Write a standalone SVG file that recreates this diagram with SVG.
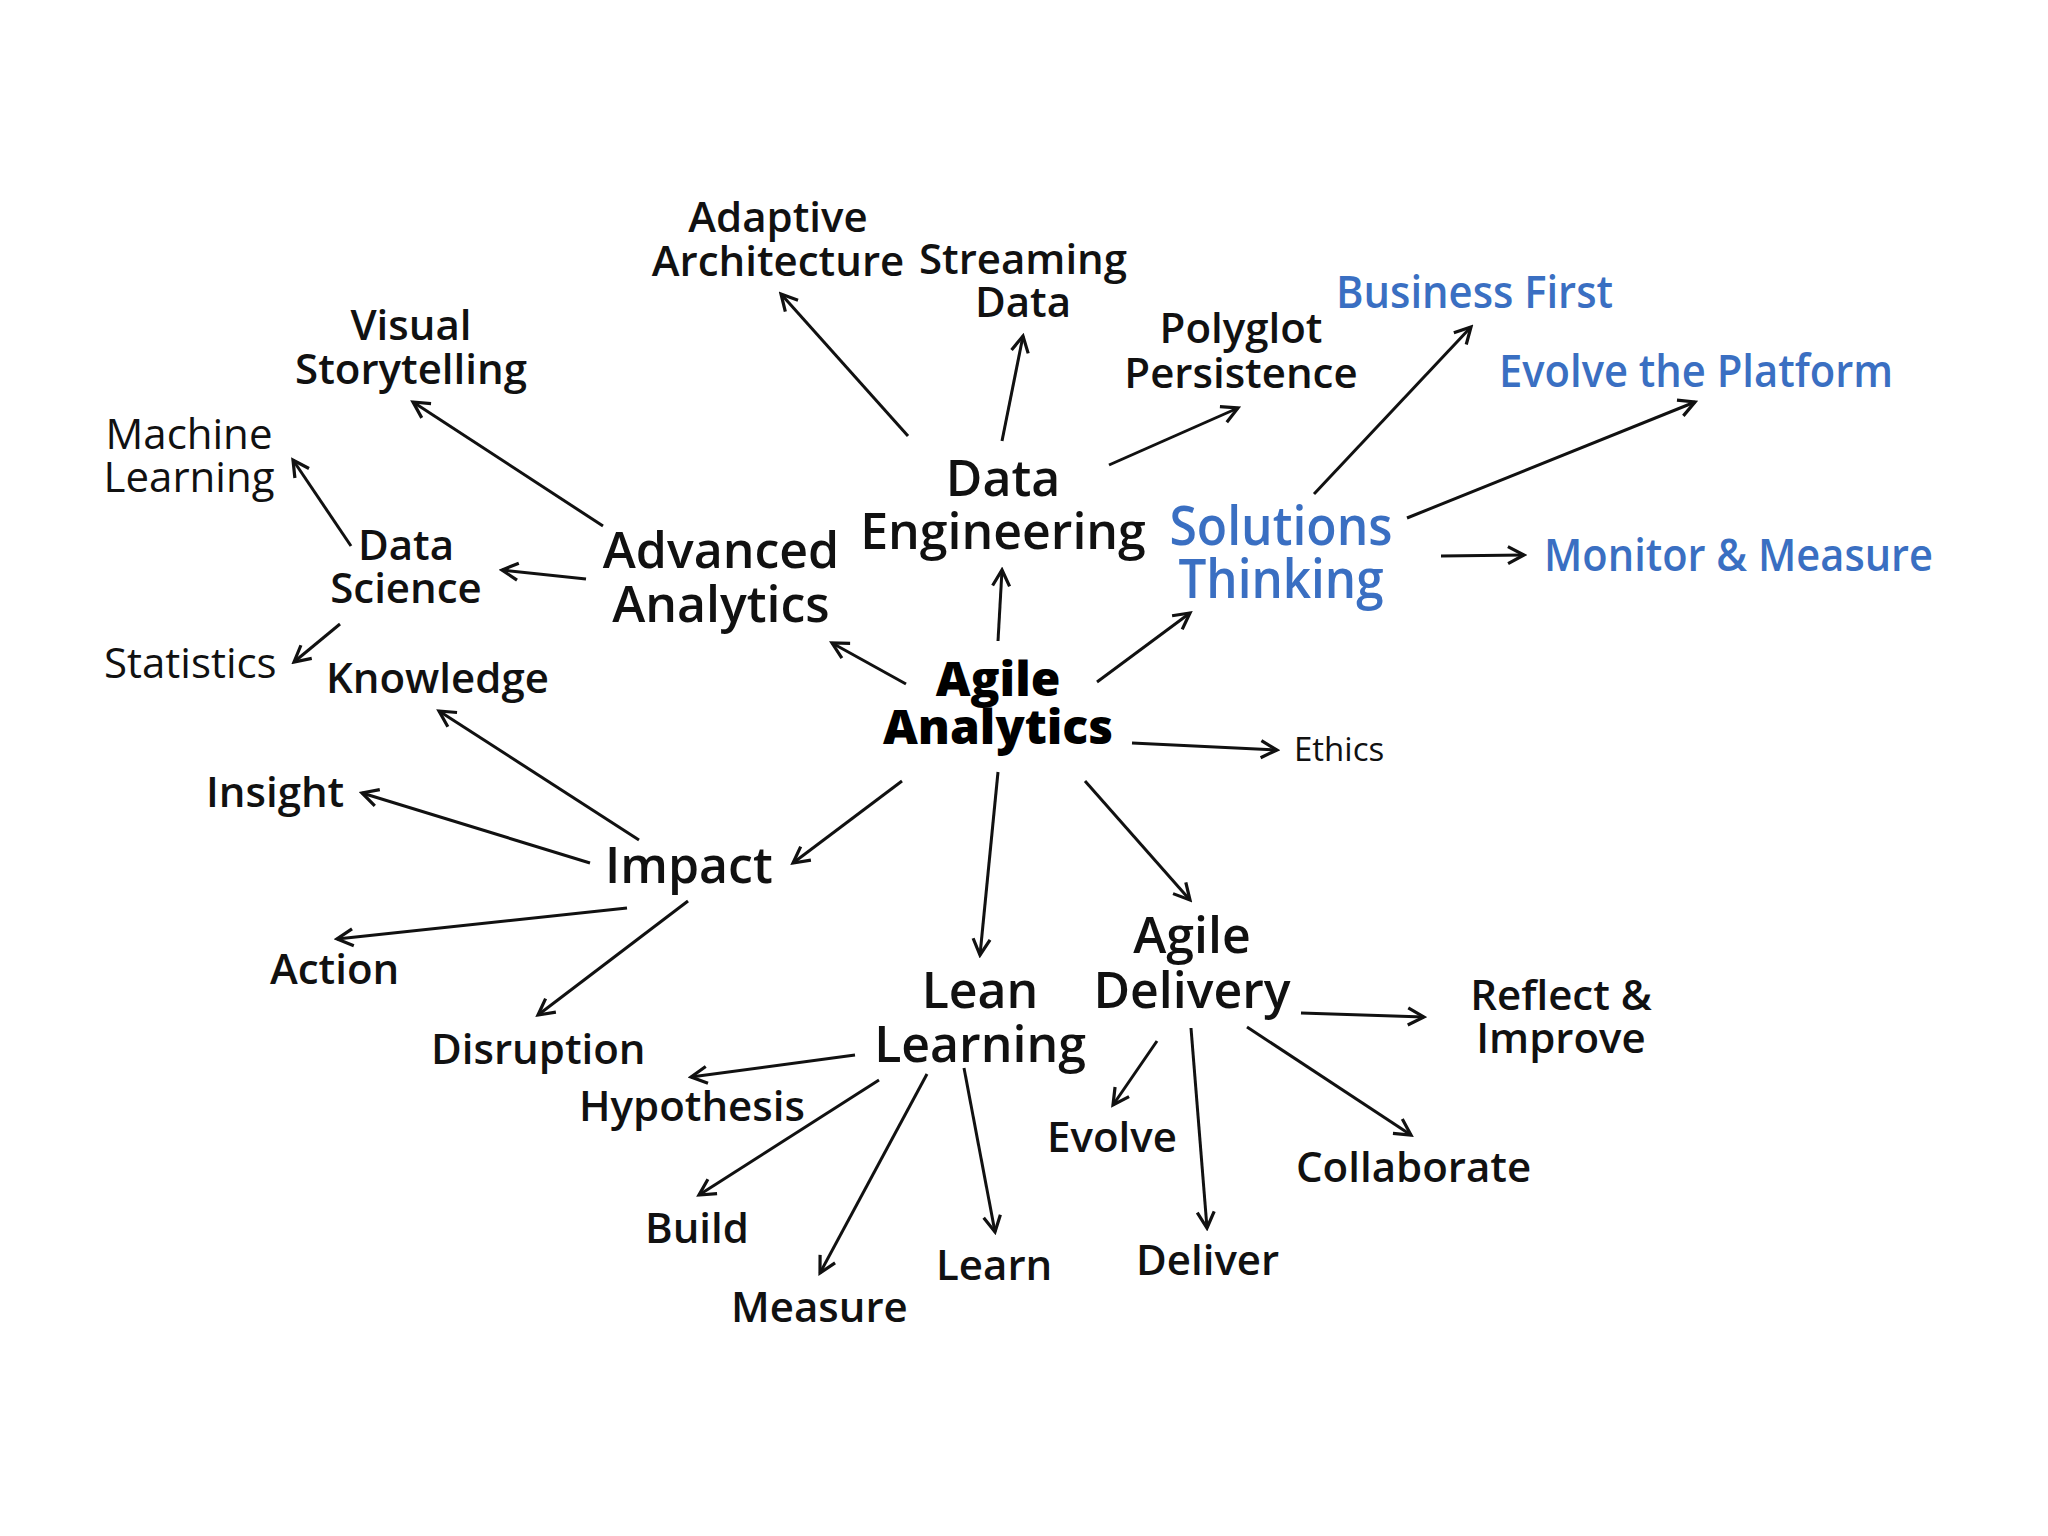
<svg xmlns="http://www.w3.org/2000/svg" width="2048" height="1536" viewBox="0 0 2048 1536">
<style>
text{font-family:"Open Sans","Noto Sans","Liberation Sans",sans-serif;fill:#111;}
.s{font-size:42px;font-weight:600;}
.r{font-size:42px;font-weight:400;}
.b{font-size:50px;font-weight:600;}
.c{text-anchor:middle;}
.blue{fill:#3a6fc2;font-weight:600;}
.hub{font-size:48px;font-weight:900;text-anchor:middle;fill:#000;}
.eth{font-size:33px;font-weight:400;}
#connectors line{stroke:#111;stroke-width:3;marker-end:url(#ah);}
</style>
<defs>
<marker id="ah" viewBox="0 0 24 24" refX="21" refY="12" markerWidth="24" markerHeight="24" markerUnits="userSpaceOnUse" orient="auto">
<path d="M5,3.5 L21,12 L5,20.5" fill="none" stroke="#111" stroke-width="3.2"/>
</marker>
</defs>
<rect width="2048" height="1536" fill="#fff"/>
<g id="connectors">
<line x1="998" y1="641" x2="1002" y2="570"/>
<line x1="906" y1="684" x2="832" y2="643"/>
<line x1="1097" y1="682" x2="1190" y2="613"/>
<line x1="1132" y1="743" x2="1277" y2="750"/>
<line x1="902" y1="781" x2="793" y2="863"/>
<line x1="998" y1="772" x2="980" y2="955"/>
<line x1="1085" y1="781" x2="1190" y2="900"/>
<line x1="908" y1="436" x2="781" y2="294"/>
<line x1="1002" y1="441" x2="1023" y2="336"/>
<line x1="1109" y1="465" x2="1238" y2="408"/>
<line x1="1314" y1="494" x2="1471" y2="327"/>
<line x1="1407" y1="518" x2="1695" y2="402"/>
<line x1="1441" y1="556" x2="1524" y2="555"/>
<line x1="603" y1="526" x2="413" y2="402"/>
<line x1="586" y1="579" x2="502" y2="570"/>
<line x1="351" y1="546" x2="293" y2="460"/>
<line x1="340" y1="624" x2="294" y2="662"/>
<line x1="639" y1="840" x2="439" y2="711"/>
<line x1="590" y1="863" x2="362" y2="793"/>
<line x1="627" y1="908" x2="337" y2="939"/>
<line x1="688" y1="901" x2="538" y2="1015"/>
<line x1="855" y1="1055" x2="691" y2="1077"/>
<line x1="879" y1="1080" x2="699" y2="1195"/>
<line x1="927" y1="1074" x2="820" y2="1273"/>
<line x1="964" y1="1068" x2="995" y2="1232"/>
<line x1="1157" y1="1041" x2="1113" y2="1105"/>
<line x1="1191" y1="1028" x2="1207" y2="1228"/>
<line x1="1301" y1="1013" x2="1424" y2="1017"/>
<line x1="1247" y1="1027" x2="1411" y2="1135"/>
</g>
<g id="agile-analytics"><text class="hub" x="998" y="696">Agile</text><text class="hub" x="998" y="744">Analytics</text></g>
<g id="data-engineering"><text class="b c" x="1003" y="496">Data</text><text class="b c" x="1003" y="549">Engineering</text></g>
<g id="adaptive-architecture"><text class="s c" x="778" y="232">Adaptive</text><text class="s c" x="778" y="276">Architecture</text></g>
<g id="streaming-data"><text class="s c" x="1023" y="274">Streaming</text><text class="s c" x="1023" y="317">Data</text></g>
<g id="polyglot-persistence"><text class="s c" x="1241" y="343">Polyglot</text><text class="s c" x="1241" y="388">Persistence</text></g>
<g id="solutions-thinking"><text class="blue c" style="font-size:54px" x="1281" y="545" textLength="223" lengthAdjust="spacingAndGlyphs">Solutions</text><text class="blue c" style="font-size:54px" x="1281" y="598" textLength="205" lengthAdjust="spacingAndGlyphs">Thinking</text></g>
<g id="business-first"><text class="blue" style="font-size:46px" x="1336" y="308" textLength="277" lengthAdjust="spacingAndGlyphs">Business First</text></g>
<g id="evolve-platform"><text class="blue" style="font-size:46px" x="1499" y="387" textLength="394" lengthAdjust="spacingAndGlyphs">Evolve the Platform</text></g>
<g id="monitor-measure"><text class="blue" style="font-size:46px" x="1544" y="571" textLength="389" lengthAdjust="spacingAndGlyphs">Monitor &amp; Measure</text></g>
<g id="advanced-analytics"><text class="b c" x="721" y="568">Advanced</text><text class="b c" x="721" y="622">Analytics</text></g>
<g id="visual-storytelling"><text class="s c" x="411" y="340">Visual</text><text class="s c" x="411" y="384">Storytelling</text></g>
<g id="machine-learning"><text class="r c" x="189" y="449">Machine</text><text class="r c" x="189" y="492">Learning</text></g>
<g id="data-science"><text class="s c" x="406" y="560">Data</text><text class="s c" x="406" y="603">Science</text></g>
<g id="statistics"><text class="r" x="104" y="678">Statistics</text></g>
<g id="knowledge"><text class="s" x="326" y="693">Knowledge</text></g>
<g id="ethics"><text class="eth" x="1294" y="761">Ethics</text></g>
<g id="impact"><text class="b" x="605" y="883">Impact</text></g>
<g id="insight"><text class="s" x="206" y="807">Insight</text></g>
<g id="action"><text class="s" x="270" y="984">Action</text></g>
<g id="disruption"><text class="s" x="431" y="1064">Disruption</text></g>
<g id="hypothesis"><text class="s" x="579" y="1121">Hypothesis</text></g>
<g id="lean-learning"><text class="b c" x="980" y="1008">Lean</text><text class="b c" x="980" y="1062">Learning</text></g>
<g id="agile-delivery"><text class="b c" x="1192" y="953">Agile</text><text class="b c" x="1192" y="1008">Delivery</text></g>
<g id="reflect-improve"><text class="s c" x="1561" y="1010">Reflect &amp;</text><text class="s c" x="1561" y="1053">Improve</text></g>
<g id="evolve"><text class="s" x="1047" y="1152">Evolve</text></g>
<g id="collaborate"><text class="s" x="1296" y="1182">Collaborate</text></g>
<g id="build"><text class="s" x="645" y="1243">Build</text></g>
<g id="deliver"><text class="s" x="1136" y="1275">Deliver</text></g>
<g id="learn"><text class="s" x="936" y="1280">Learn</text></g>
<g id="measure"><text class="s" x="731" y="1322">Measure</text></g>
</svg>
